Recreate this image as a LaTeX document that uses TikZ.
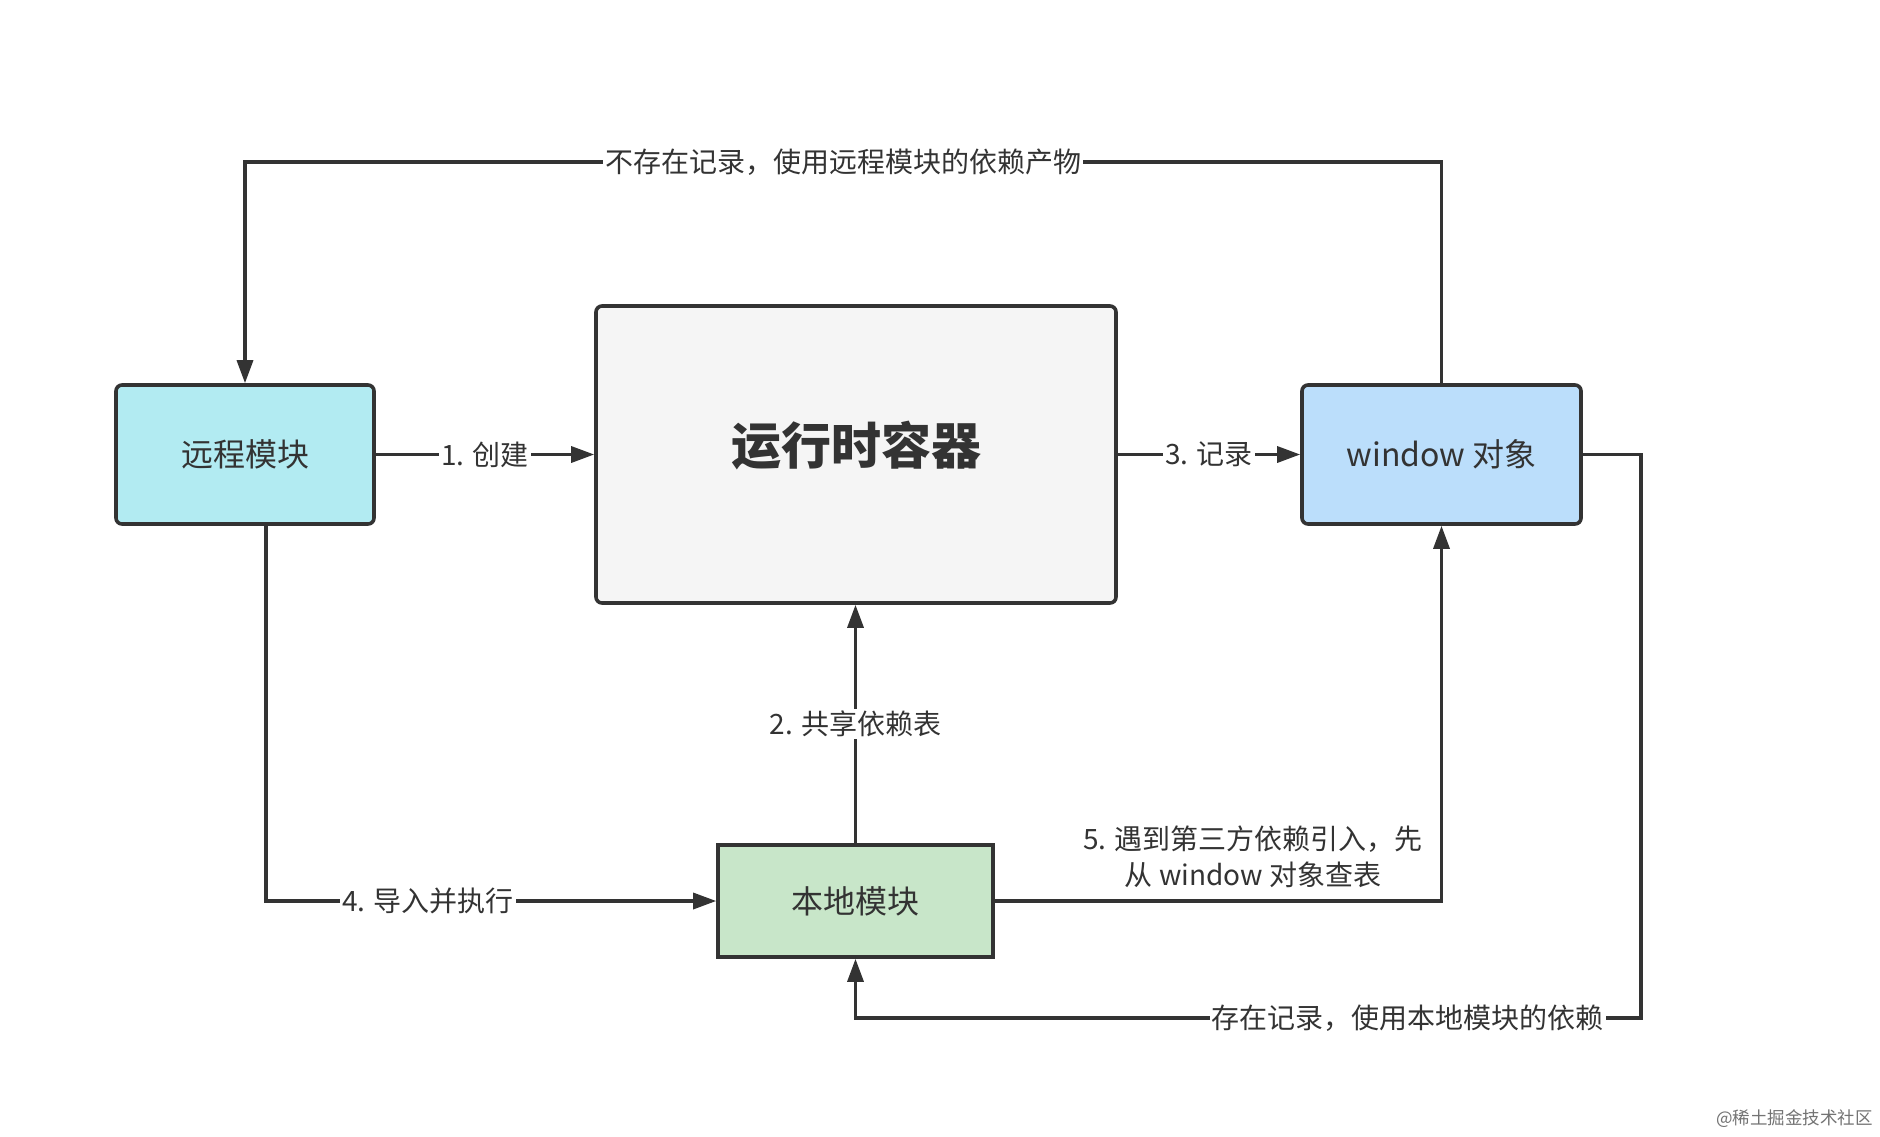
\documentclass[tikz,border=0pt]{standalone}
\usepackage{fontspec}
\setmainfont{Noto Sans CJK SC}
\usetikzlibrary{arrows.meta}
\definecolor{ink}{HTML}{333333}
\definecolor{cyanfill}{HTML}{B2EBF2}
\definecolor{bluefill}{HTML}{BBDEFB}
\definecolor{greenfill}{HTML}{C8E6C9}
\definecolor{greyfill}{HTML}{F5F5F5}
\tikzset{
  box/.style={draw=ink, line width=3.6pt, text=ink, font=\fontsize{32}{38}\selectfont, inner sep=0pt},
  arr/.style={draw=ink, line width=3.3pt, -{Triangle[length=23pt,width=16pt]}},
  lab/.style={fill=white, text=ink, font=\fontsize{28}{36}\selectfont, inner sep=2pt},
}
\begin{document}
\begin{tikzpicture}[x=1pt,y=-1pt]
\useasboundingbox (0,0) rectangle (1880,1136);
\fill[white] (0,0) rectangle (1880,1136);

\node[box, fill=cyanfill, rounded corners=6pt, minimum width=258pt, minimum height=139pt] (remote) at (245,454.5) {远程模块};
\node[box, fill=greyfill, rounded corners=6pt, minimum width=520pt, minimum height=297pt, font=\fontsize{50}{58}\selectfont\bfseries] (runtime) at (856,454.5) {\raisebox{9pt}[\height][\depth]{运行时容器}};
\node[box, fill=bluefill, rounded corners=6pt, minimum width=279pt, minimum height=139pt] (window) at (1441.5,454.5) {window 对象};
\node[box, fill=greenfill, minimum width=275pt, minimum height=112pt] (local) at (855.5,901) {本地模块};

% top loop
\coordinate (tr) at (1441.5,162);
\coordinate (tl) at (245,162);
\draw[arr] (window.north) -- (tr) -- node[lab]{不存在记录，使用远程模块的依赖产物} (tl) -- (remote.north);

% 1
\draw[arr] (remote.east) -- node[lab]{1. 创建} (runtime.west);
% 3
\draw[arr] (runtime.east) -- node[lab]{3. 记录} (window.west);
% 2
\draw[arr] (local.north) -- node[lab]{2. 共享依赖表} (local.north |- runtime.south);
% 4
\coordinate (rb) at (266,524);
\coordinate (c4) at (266,901);
\draw[arr] (rb) -- (c4) -- node[lab,pos=0.36]{4. 导入并执行} (local.west);
% 5
\coordinate (c5) at (1441.5,901);
\draw[arr] (local.east) -- (c5) -- (window.south);
\node[lab, fill=none, align=center] (l5) at (1253,857) {5. 遇到第三方依赖引入，先\\从 window 对象查表};
% 6
\coordinate (e1) at (1641,454.5);
\coordinate (e2) at (1641,1018);
\coordinate (e3) at (855.5,1018);
\draw[arr] (window.east) -- (e1) -- (e2) -- node[lab,pos=0.297]{存在记录，使用本地模块的依赖} (e3) -- (local.south);

% watermark
\node[text=black!55, font=\fontsize{17.5}{20}\selectfont, anchor=east, inner sep=0pt] (wm) at (1873,1119) {@稀土掘金技术社区};
\end{tikzpicture}
\end{document}
